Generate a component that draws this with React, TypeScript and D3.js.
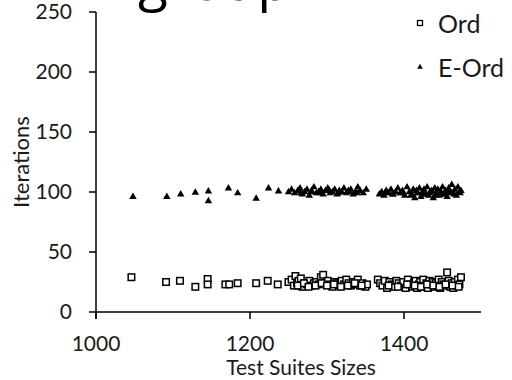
import React from "react";
import * as d3 from "d3";

const xTicks = [1000, 1200, 1400];
const yTicks = [0, 50, 100, 150, 200, 250];

const ordX = [1046, 1091, 1109, 1129, 1145, 1145, 1168, 1173, 1184, 1208, 1223, 1236,
  1250, 1254, 1257, 1259, 1261, 1263, 1266, 1268, 1271, 1274, 1277, 1280, 1283, 1286, 1289, 1292, 1295, 1298, 1301, 1304, 1307, 1310, 1313, 1316, 1319, 1322, 1325, 1328, 1331, 1334, 1337, 1340, 1343, 1346, 1350, 1352,
  1262, 1270, 1276, 1285, 1293, 1300, 1309, 1318, 1327, 1336, 1345,
  1366, 1369, 1372, 1375, 1378, 1381, 1384, 1387, 1390, 1393, 1396, 1399, 1402, 1405, 1408, 1411, 1413, 1415, 1417, 1419, 1421, 1423, 1425, 1427, 1429, 1431, 1433, 1435, 1437, 1439, 1441, 1443, 1445, 1447, 1449, 1451, 1453, 1456, 1458, 1460, 1462, 1464, 1466, 1468, 1470, 1472, 1474,
  1380, 1392, 1404, 1414, 1422, 1430, 1438, 1446, 1454, 1463, 1471];
const ordY = [29, 25, 26, 21, 27.5, 23, 23, 23, 24, 24, 26, 23,
  25, 27, 22, 30, 24, 26, 28, 21, 24, 23, 26, 22, 24, 25, 23, 29, 31, 24, 26, 23, 21, 25, 24, 22, 26, 23, 27, 24, 22, 25, 23, 27, 22, 24, 21, 23,
  22, 24, 21, 22, 24, 22, 23, 21, 22, 24, 22,
  27, 24, 22, 26, 20, 25, 23, 21, 26, 24, 22, 25, 20, 27, 23, 21, 24, 26, 20, 23, 25, 22, 27, 21, 24, 20, 26, 23, 25, 21, 24, 22, 27, 20, 25, 23, 22, 33, 26, 21, 24, 20, 25, 22, 27, 23, 29,
  22, 21, 23, 22, 21, 23, 22, 21, 23, 22, 21];

const eordX = [1048, 1092, 1110, 1129, 1146, 1146, 1172, 1184, 1208, 1224, 1237,
  1250, 1254, 1258, 1262, 1265, 1268, 1271, 1274, 1277, 1280, 1283, 1286, 1289, 1292, 1295, 1298, 1301, 1304, 1307, 1310, 1313, 1316, 1319, 1322, 1325, 1328, 1331, 1334, 1337, 1340, 1343, 1347, 1351,
  1266, 1279, 1291, 1303, 1315, 1327, 1339,
  1368, 1371, 1374, 1377, 1380, 1383, 1386, 1389, 1392, 1395, 1398, 1401, 1404, 1407, 1410, 1412, 1414, 1416, 1418, 1420, 1422, 1424, 1426, 1428, 1430, 1432, 1434, 1436, 1438, 1440, 1442, 1444, 1446, 1448, 1450, 1452, 1454, 1456, 1458, 1460, 1462, 1464, 1466, 1468, 1470, 1472, 1474,
  1375, 1385, 1396, 1409, 1417, 1425, 1433, 1441, 1449, 1457, 1465, 1473];
const eordY = [96, 96, 98, 99.5, 100.5, 92.5, 103, 99, 94.5, 103, 100.5,
  100, 102, 99, 101, 103, 98, 100, 102, 97, 101, 104, 99, 100, 102, 98, 101, 103, 99, 100, 102, 98, 101, 100, 103, 99, 101, 102, 98, 100, 104, 101, 99, 102,
  99, 100, 99, 101, 99, 100, 99,
  98, 100, 97, 101, 99, 102, 98, 100, 103, 99, 101, 97, 104, 100, 98, 102, 95, 101, 99, 103, 96, 100, 102, 98, 104, 97, 100, 101, 95, 103, 99, 102, 97, 100, 104, 98, 101, 96, 103, 100, 106, 99, 102, 97, 104, 100, 101,
  99, 98, 99, 97, 99, 98, 99, 97, 98, 99, 98, 99];

const seriesNames = ["Ord", "E-Ord"];

const FONT = "Lato, 'Open Sans', sans-serif";
const TXT = "#1a1a1a";

export default function App() {
  const W = 512, H = 380;
  const x = d3.scaleLinear().domain([1000, 1500]).range([96, 481]);
  const y = d3.scaleLinear().domain([0, 250]).range([312, 12]);
  const tri = d3.symbol().type(d3.symbolTriangle).size(24)();
  const sq = 6.5;

  return (
    <svg width={W} height={H} style={{ position: "absolute", left: 0, top: 0, background: "#fff" }}
      fontFamily={FONT}>
      <rect x={0} y={0} width={W} height={H} fill="#fff" />
      {/* cut-off title */}
      <text x={138} y={0} fontSize={55} fill="#000" fontFamily="'Open Sans', sans-serif">group</text>
      <text x={312} y={0} fontSize={55} fill="#aaa" fontFamily="'Open Sans', sans-serif">1</text>

      {/* axes */}
      <line x1={x(1000)} x2={x(1000)} y1={y(250)} y2={y(0) + 7} stroke="#000" strokeWidth={1.5} />
      <line x1={x(1000)} x2={x(1500)} y1={y(0)} y2={y(0)} stroke="#000" strokeWidth={1.5} />
      {yTicks.map(t => (
        <g key={"y" + t}>
          <line x1={x(1000) - 7} x2={x(1000)} y1={y(t)} y2={y(t)} stroke="#000" strokeWidth={1.5} />
          <text x={72} y={y(t)} dy="0.35em" textAnchor="end" fontSize={21} fill={TXT}>{t}</text>
        </g>
      ))}
      {xTicks.map(t => (
        <g key={"x" + t}>
          <line x1={x(t)} x2={x(t)} y1={y(0)} y2={y(0) + 7} stroke="#000" strokeWidth={1.5} />
          <text x={x(t)} y={351} textAnchor="middle" fontSize={21} fill={TXT}>{t}</text>
        </g>
      ))}
      <text x={301} y={375} textAnchor="middle" fontSize={21} fill={TXT}>Test Suites Sizes</text>
      <text transform={`translate(29,162) rotate(-90)`} textAnchor="middle" fontSize={22} fill={TXT}>Iterations</text>

      {/* Ord squares */}
      {ordX.map((v, i) => (
        <rect key={"o" + i} x={x(v) - sq / 2} y={y(ordY[i]) - sq / 2} width={sq} height={sq}
          fill="#fff" stroke="#000" strokeWidth={1.5} />
      ))}
      {/* E-Ord triangles */}
      {eordX.map((v, i) => (
        <path key={"e" + i} d={tri} transform={`translate(${x(v)},${y(eordY[i])})`} fill="#000" />
      ))}

      {/* legend */}
      <rect x={420 - 2.5} y={23 - 2.5} width={5} height={5} fill="#fff" stroke="#000" strokeWidth={1.3} />
      <text x={438} y={33} fontSize={25} fill={TXT}>{seriesNames[0]}</text>
      <path d={d3.symbol().type(d3.symbolTriangle).size(14)()} transform="translate(420,67)" fill="#000" />
      <text x={438} y={77} fontSize={25} fill={TXT}>{seriesNames[1]}</text>
    </svg>
  );
}
